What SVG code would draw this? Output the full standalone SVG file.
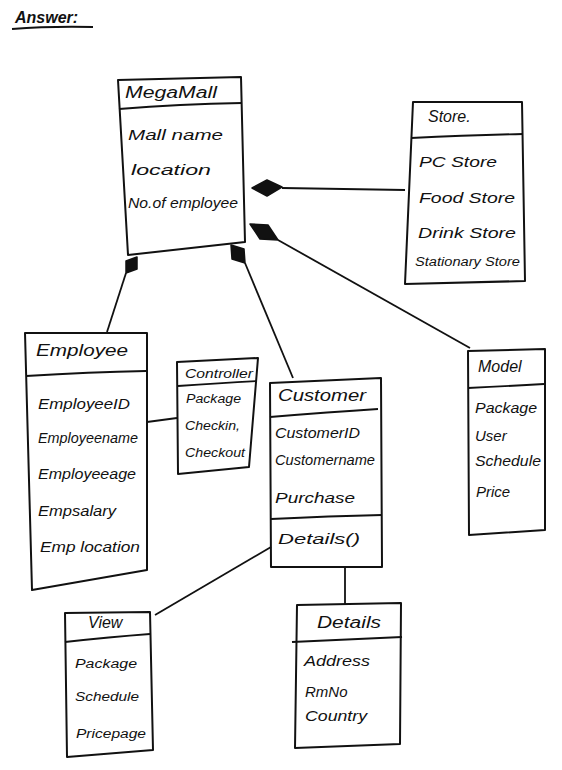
<svg xmlns="http://www.w3.org/2000/svg" width="562" height="770" viewBox="0 0 562 770">
<style>
.box{fill:none;stroke:#111;stroke-width:2;stroke-linejoin:round}
.div{fill:none;stroke:#111;stroke-width:1.8}
.con{fill:none;stroke:#111;stroke-width:1.8}
.dia{fill:#111;stroke:#111;stroke-width:1.5;stroke-linejoin:round}
.t{font-family:"Liberation Sans",Arial,sans-serif;font-style:italic;fill:#111;font-size:15px}
.h{font-family:"Liberation Sans",Arial,sans-serif;font-style:italic;fill:#111;font-size:16px}
.s{font-family:"Liberation Sans",Arial,sans-serif;font-style:italic;fill:#111;font-size:12.5px}
</style>
<rect width="562" height="770" fill="#fff"/>
<g id="title">
<text class="h" x="15" y="23" font-weight="bold">Answer:</text>
<path class="con" d="M12 29 Q50 26 93 27"/>
</g>
<g id="connectors">
<path class="con" d="M282 188 L405 190"/>
<polygon class="dia" points="252,188 267,180 282,187 267,196"/>
<path class="con" d="M278 240 L470 348"/>
<polygon class="dia" points="250,224 260,239 278,240 268,225"/>
<path class="con" d="M245 263 L293 378"/>
<polygon class="dia" points="231,245 232,259 245,263 244,249"/>
<path class="con" d="M126 273 L107 332"/>
<polygon class="dia" points="137,257 137,269 126,273 126,261"/>
<path class="con" d="M147 422 L177 418"/>
<path class="con" d="M155 615 L271 547"/>
<path class="con" d="M345 567 L345 604"/>
</g>
<g id="megamall">
<path class="box" d="M118 80 L241 77 L245 242 L128 255 Z"/>
<path class="div" d="M119 109 Q180 104 242 103"/>
<text class="h" x="125" y="98" textLength="92" lengthAdjust="spacingAndGlyphs">MegaMall</text>
<text class="t" x="128" y="140" textLength="95" lengthAdjust="spacingAndGlyphs">Mall name</text>
<text class="t" x="131" y="175" textLength="80" lengthAdjust="spacingAndGlyphs">location</text>
<text class="t" x="128" y="208" textLength="110" lengthAdjust="spacingAndGlyphs">No.of employee</text>
</g>
<g id="store">
<path class="box" d="M413 102 L522 102 L525 281 L405 284 Z"/>
<path class="div" d="M411 138 Q470 135 523 134"/>
<text class="h" x="428" y="122">Store.</text>
<text class="t" x="419" y="167" textLength="78" lengthAdjust="spacingAndGlyphs">PC Store</text>
<text class="t" x="419" y="203" textLength="96" lengthAdjust="spacingAndGlyphs">Food Store</text>
<text class="t" x="418" y="238" textLength="98" lengthAdjust="spacingAndGlyphs">Drink Store</text>
<text class="s" x="415" y="266" textLength="105" lengthAdjust="spacingAndGlyphs">Stationary Store</text>
</g>
<g id="employee">
<path class="box" d="M25 333 L147 333 L147 570 L32 590 Z"/>
<path class="div" d="M26 376 Q90 372 146 371"/>
<text class="h" x="36" y="356" textLength="92" lengthAdjust="spacingAndGlyphs">Employee</text>
<text class="t" x="38" y="409" textLength="92" lengthAdjust="spacingAndGlyphs">EmployeeID</text>
<text class="t" x="38" y="443" textLength="100" lengthAdjust="spacingAndGlyphs">Employeename</text>
<text class="t" x="38" y="479" textLength="98" lengthAdjust="spacingAndGlyphs">Employeeage</text>
<text class="t" x="38" y="516" textLength="78" lengthAdjust="spacingAndGlyphs">Empsalary</text>
<text class="t" x="40" y="552" textLength="100" lengthAdjust="spacingAndGlyphs">Emp location</text>
</g>
<g id="controller">
<path class="box" d="M177 362 L258 358 L249 467 L178 474 Z"/>
<path class="div" d="M178 386 Q220 383 257 381"/>
<text class="s" x="185" y="378" textLength="68" lengthAdjust="spacingAndGlyphs">Controller</text>
<text class="s" x="186" y="403" textLength="55" lengthAdjust="spacingAndGlyphs">Package</text>
<text class="s" x="185" y="430" textLength="55" lengthAdjust="spacingAndGlyphs">Checkin,</text>
<text class="s" x="185" y="457" textLength="60" lengthAdjust="spacingAndGlyphs">Checkout</text>
</g>
<g id="customer">
<path class="box" d="M270 383 L381 378 L382 567 L271 567 Z"/>
<path class="div" d="M270 417 Q330 412 378 409"/>
<path class="div" d="M271 519 Q330 516 382 515"/>
<text class="h" x="278" y="401" textLength="88" lengthAdjust="spacingAndGlyphs">Customer</text>
<text class="t" x="275" y="438" textLength="85" lengthAdjust="spacingAndGlyphs">CustomerID</text>
<text class="t" x="275" y="465" textLength="100" lengthAdjust="spacingAndGlyphs">Customername</text>
<text class="t" x="275" y="503" textLength="80" lengthAdjust="spacingAndGlyphs">Purchase</text>
<text class="t" x="278" y="544" textLength="82" lengthAdjust="spacingAndGlyphs">Details()</text>
</g>
<g id="model">
<path class="box" d="M468 351 L545 349 L545 530 L469 535 Z"/>
<path class="div" d="M468 388 Q510 386 544 384"/>
<text class="h" x="478" y="372">Model</text>
<text class="t" x="475" y="413" textLength="62" lengthAdjust="spacingAndGlyphs">Package</text>
<text class="t" x="475" y="441">User</text>
<text class="t" x="475" y="466" textLength="66" lengthAdjust="spacingAndGlyphs">Schedule</text>
<text class="t" x="476" y="497">Price</text>
</g>
<g id="view">
<path class="box" d="M65 613 L150 612 L153 750 L67 757 Z"/>
<path class="div" d="M65 642 Q110 637 150 634"/>
<text class="h" x="88" y="628">View</text>
<text class="s" x="75" y="668" textLength="62" lengthAdjust="spacingAndGlyphs">Package</text>
<text class="s" x="75" y="701" textLength="64" lengthAdjust="spacingAndGlyphs">Schedule</text>
<text class="s" x="76" y="738" textLength="70" lengthAdjust="spacingAndGlyphs">Pricepage</text>
</g>
<g id="details">
<path class="box" d="M297 605 L401 603 L400 744 L295 748 Z"/>
<path class="div" d="M292 642 L402 637"/>
<text class="h" x="317" y="628" textLength="64" lengthAdjust="spacingAndGlyphs">Details</text>
<text class="t" x="304" y="666" textLength="66" lengthAdjust="spacingAndGlyphs">Address</text>
<text class="t" x="305" y="697">RmNo</text>
<text class="t" x="305" y="721" textLength="62" lengthAdjust="spacingAndGlyphs">Country</text>
</g>
</svg>
